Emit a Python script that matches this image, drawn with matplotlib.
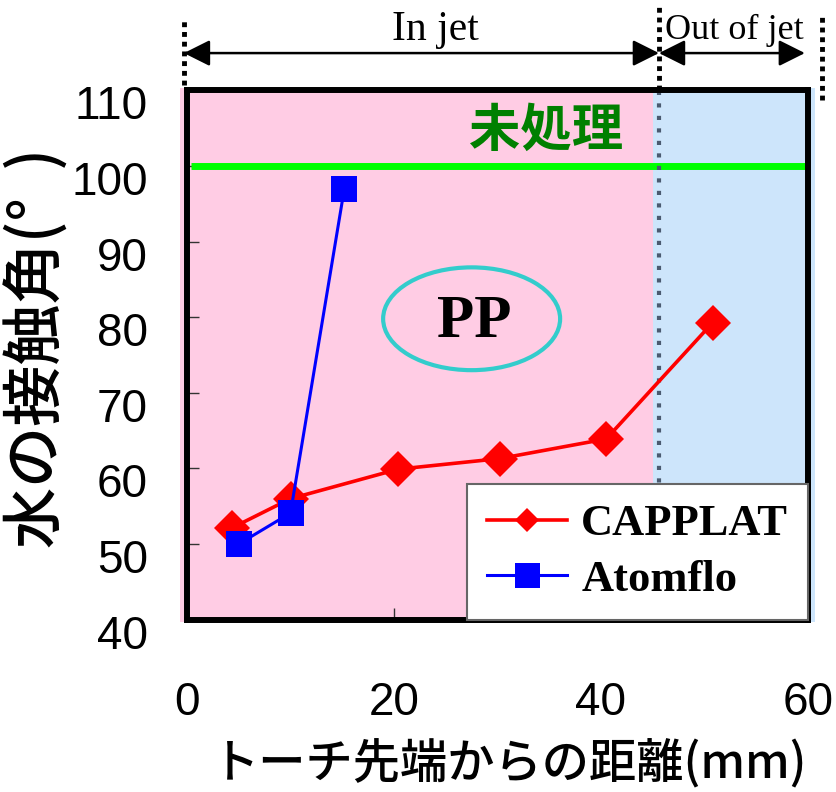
import matplotlib
matplotlib.use("Agg")
import matplotlib.pyplot as plt
import matplotlib.transforms as mtransforms
from matplotlib.patches import Rectangle, Ellipse
from matplotlib.lines import Line2D

# ---------------- data ----------------
capplat_x = [4.3, 10.0, 20.4, 30.2, 40.5, 50.8]
capplat_y = [52.1, 56.0, 59.9, 61.3, 63.9, 79.3]
atomflo_x = [5.0, 10.0, 15.2]
atomflo_y = [50.0, 54.1, 97.0]
untreated_y = 100
jet_boundary = 45.0
x_ticks = [0, 20, 40, 60]
y_ticks = [40, 50, 60, 70, 80, 90, 100, 110]
series_labels = ["CAPPLAT", "Atomflo"]

SANS = ["Liberation Sans", "DejaVu Sans"]
CJK = ["Noto Sans CJK JP", "DejaVu Sans"]
SERIF = ["Liberation Serif", "DejaVu Serif"]

fig = plt.figure(figsize=(8.36, 7.92), dpi=100)
W, H = 836, 792
x0, x1, ytop, ybot = 187, 808, 90.5, 619.6
ax = fig.add_axes([x0 / W, 1 - ybot / H, (x1 - x0) / W, (ybot - ytop) / H])
ax.set_xlim(0, 60)
ax.set_ylim(40, 110)
ax.patch.set_visible(False)

# background regions (slightly overflowing the axes like the original)
ax.add_patch(Rectangle((-0.65, 39.7), jet_boundary + 0.65, 70.6, facecolor="#ffcce4",
                       edgecolor="none", clip_on=False, zorder=0))
ax.add_patch(Rectangle((jet_boundary, 39.7), 60.7 - jet_boundary, 70.6, facecolor="#cde5fb",
                       edgecolor="none", clip_on=False, zorder=0))

# untreated reference line
ax.plot([0.4, 60], [untreated_y, untreated_y], color="#00ff00", lw=5, zorder=2,
        solid_capstyle="butt")
ax.text(34.7, 104.7, "未処理", color="#008000", fontsize=37, fontweight="bold",
        family=CJK, ha="center", va="center", zorder=3)

# jet boundary dotted line inside the axes
ax.plot([45.6, 45.6], [40, 110], color="#4a5a70", lw=3, linestyle=(0, (1, 2)),
        dash_capstyle="butt", zorder=2)

# data series
ax.plot(capplat_x, capplat_y, color="#ff0000", lw=2.6, marker="D", ms=18.5,
        markeredgewidth=0, zorder=5, label=series_labels[0])
ax.plot(atomflo_x, atomflo_y, color="#0000ff", lw=2.2, marker="s", ms=18.5,
        markeredgewidth=0, zorder=6, label=series_labels[1])

# PP ellipse
ax.add_patch(Ellipse((27.5, 79.8), 17.1, 13.6, facecolor="none", edgecolor="#33cccc",
                     lw=3, zorder=3))
ax.text(27.8, 79.4, "PP", fontsize=44, fontweight="bold", family=SERIF,
        ha="center", va="center", zorder=4)

# spines & ticks
for s in ax.spines.values():
    s.set_linewidth(4.3)
    s.set_color("black")
    s.set_zorder(7)
ax.set_xticks(x_ticks)
ax.set_yticks(y_ticks)
ax.tick_params(axis="both", direction="in", length=8.5, width=1.0, color="#333333",
               labelsize=33)
ax.tick_params(axis="y", pad=28)
ax.tick_params(axis="x", pad=44)
for lab in ax.get_xticklabels() + ax.get_yticklabels():
    lab.set_family(SANS)
off = mtransforms.ScaledTranslation(0, -12 / 100, fig.dpi_scale_trans)
for lab in ax.get_yticklabels():
    lab.set_transform(lab.get_transform() + off)

# axis labels
fig.text(38 / W, 1 - 348 / H, "水の接触角(°  )", rotation=90, fontsize=44, family=CJK,
         fontweight="medium", ha="center", va="center")
fig.text(510 / W, 1 - 765 / H, "トーチ先端からの距離(mm)", fontsize=34, family=CJK,
         fontweight="medium", ha="center", va="center")

# legend
leg = ax.legend(loc="lower right", bbox_to_anchor=(1.0, 0.0), frameon=True, fancybox=False,
                edgecolor="#666666", framealpha=1, borderaxespad=0,
                prop={"family": SERIF, "weight": "bold", "size": 32},
                handlelength=1.8, handletextpad=0.32, labelspacing=0.34,
                borderpad=0.45)
leg.get_frame().set_linewidth(1.5)
leg.set_zorder(8)
leg.legend_handles[0].set_markersize(12)
leg.legend_handles[1].set_markersize(18)

# top annotations: dotted guide lines and arrows
for xv, ya, yb in [(-0.3, 110.7, 119.3), (45.6, 110.0, 121.3), (61.35, 108.7, 120.0)]:
    ax.add_line(Line2D([xv, xv], [ya, yb], color="black", lw=3.5, linestyle=(0, (1, 1)),
                       dash_capstyle="butt", clip_on=False, zorder=9))
arrow_kw = dict(arrowstyle="<|-|>", mutation_scale=40, color="black", lw=1.8,
                shrinkA=0, shrinkB=0)
ax.annotate("", xy=(45.6, 114.95), xytext=(-0.3, 114.95), arrowprops=arrow_kw,
            annotation_clip=False)
ax.annotate("", xy=(59.7, 114.95), xytext=(45.6, 114.95), arrowprops=arrow_kw,
            annotation_clip=False)
ax.text(24.0, 118.0, "In jet", fontsize=30, family=SERIF, ha="center", va="center",
        clip_on=False)
ax.text(52.9, 117.9, "Out of jet", fontsize=26, family=SERIF, ha="center", va="center",
        clip_on=False)

fig.savefig("out.png", dpi=100)
